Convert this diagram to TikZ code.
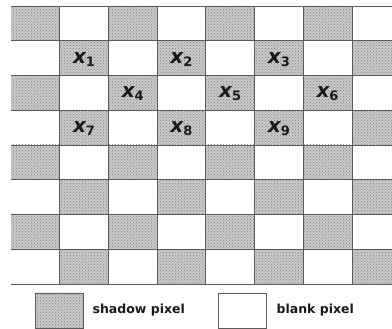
\documentclass[tikz,border=0pt]{standalone}
\usepackage{fontspec}
\setmainfont{DejaVu Sans}
\usetikzlibrary{patterns,positioning}
\definecolor{GridLine}{HTML}{5A5A5A}
\definecolor{ShadeFill}{HTML}{CACACA}
\tikzset{
  shadow cell/.style={fill=ShadeFill,postaction={pattern=crosshatch dots,pattern color=black!50}},
  pixlabel/.style={font=\bfseries\itshape\fontsize{20}{20}\selectfont,inner sep=0pt,text=black!90},
  legendbox/.style={draw=GridLine,line width=0.8pt,minimum width=48pt,minimum height=35pt,inner sep=0pt},
  legendtext/.style={font=\bfseries\fontsize{12.5}{12.5}\selectfont,anchor=west,inner sep=0pt,text=black!90},
}
\begin{document}
\begin{tikzpicture}[x=1pt,y=-1pt]
\path[use as bounding box] (0,0) rectangle (392,329);
% checker cells
\foreach \r in {0,...,7}
  \foreach \c in {0,...,7}{
    \pgfmathtruncatemacro\odd{mod(\r+\c,2)}
    \ifnum\odd=0
      \fill[shadow cell] ({11+48.7*\c},{6+34.75*\r}) rectangle ({min(11+48.7*(\c+1),392)},{6+34.75*(\r+1)});
    \fi
  }
% grid lines
\foreach \r in {0,...,8}
  \draw[GridLine,line width=0.7pt] (11,{6+34.75*\r}) -- (392,{6+34.75*\r});
\foreach \c in {1,...,7}
  \draw[GridLine,line width=0.7pt] ({11+48.7*\c},6) -- ({11+48.7*\c},284);
% pixel labels
\foreach \n/\r/\c in {1/1/1,2/1/3,3/1/5,4/2/2,5/2/4,6/2/6,7/3/1,8/3/3,9/3/5}
  \node[pixlabel] (x\n) at ({11+48.7*(\c+0.5)},{6+34.75*(\r+0.5)+1})
    {x\raisebox{-3pt}{\fontsize{13}{13}\selectfont\upshape\n}};
% legend
\node[legendbox,shadow cell] (shadowkey) at (59,310.5) {};
\node[legendtext,right=9pt of shadowkey] (shadowtext) {shadow pixel};
\node[legendbox,fill=white] (blankkey) at (242,310.5) {};
\node[legendtext,right=10pt of blankkey] (blanktext) {blank pixel};
\end{tikzpicture}
\end{document}
